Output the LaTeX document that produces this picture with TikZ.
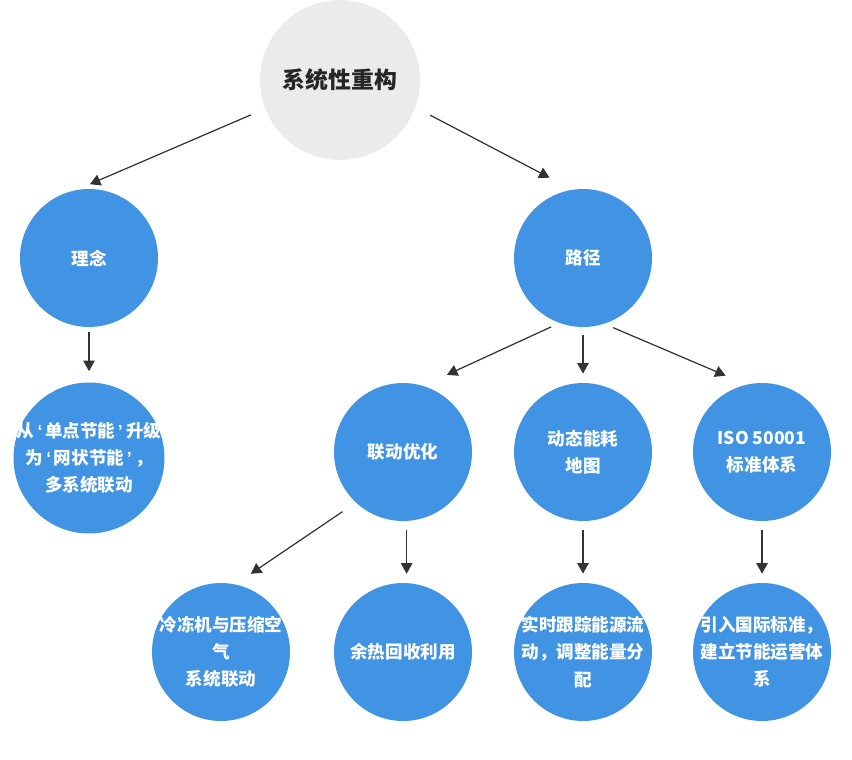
\documentclass[tikz,border=0pt]{standalone}
\usepackage{fontspec}
\newfontfamily\cjk{Noto Sans CJK SC}
\newfontfamily\lat{Liberation Sans}
\usepackage{tikz}
\usetikzlibrary{arrows.meta}
\definecolor{burbuja}{HTML}{4194E4}
\definecolor{raizgris}{HTML}{EBEBEB}
\definecolor{flecha}{HTML}{333333}
\newcommand{\comA}{\hspace{0.2em}{\lat\bfseries ‘}\hspace{0.15em}}
\newcommand{\comB}{\hspace{0.15em}{\lat\bfseries ’}\hspace{0.2em}}
\tikzstyle{raiz}=[circle, fill=raizgris, minimum size=3.2cm, inner sep=0pt]
\tikzstyle{burb}=[circle, fill=burbuja, minimum size=2.76cm, inner sep=0pt]
\tikzstyle{txtr}=[align=center, font=\cjk\bfseries\fontsize{13pt}{16pt}\selectfont, text=black!85]
\tikzstyle{txtb}=[align=center, font=\cjk\bfseries\fontsize{10pt}{15.5pt}\selectfont, text=white]
\tikzstyle{flec}=[draw=flecha, line width=0.7pt, -{Triangle[length=6pt,width=6.5pt]}]

\begin{document}
\begin{tikzpicture}[x=0.02cm, y=-0.02cm]
            \useasboundingbox[fill=white] (0,0) rectangle (852,760);
            % Nodos
            \node[raiz, label={[txtr]center:系统性重构}] (sis) at (340,80) {};
            \node[burb, label={[txtb]center:理念}] (idea) at (89,258) {};
            \node[burb, label={[txtb]center:路径}] (ruta) at (583,258) {};
            \node[burb, minimum size=3.02cm, label={[txtb]center:从\comA 单点节能\comB 升级\\为\comA 网状节能\comB ，\\多系统联动}] (multi) at (89,458) {};
            \node[burb, label={[txtb]center:联动优化}] (link) at (403,452) {};
            \node[burb, label={[txtb]center:动态能耗\\地图}] (mapa) at (583,452) {};
            \node[burb, label={[txtb]center:ISO 50001\\标准体系}] (iso) at (762,452) {};
            \node[burb, label={[txtb]center:冷冻机与压缩空\\气\\系统联动}] (frio) at (221,652) {};
            \node[burb, label={[txtb]center:余热回收利用}] (calor) at (403,652) {};
            \node[burb, label={[txtb]center:实时跟踪能源流\\动，调整能量分\\配}] (flujo) at (583,652) {};
            \node[burb, label={[txtb]center:引入国际标准，\\建立节能运营体\\系}] (norma) at (762,652) {};
            % Flechas
            \draw[flec, shorten <=0.31cm, shorten >=0.28cm] (sis.201.5) -- (idea.100);
            \draw[flec, shorten <=0.33cm, shorten >=0.51cm] (sis.340.2) -- (ruta.99.7);
            \draw[flec, shorten <=0.1cm, shorten >=0.22cm] (idea.south) -- (multi.north);
            \draw[flec, shorten <=0.18cm, shorten >=0.52cm] (ruta.250.9) -- (link.73);
            \draw[flec, shorten <=0.16cm, shorten >=0.18cm] (ruta.south) -- (mapa.north);
            \draw[flec, shorten <=0.19cm, shorten >=0.45cm] (ruta.288.9) -- (iso.103.8);
            \draw[flec, shorten <=0.32cm, shorten >=0.37cm] (link.227.6) -- (frio.78.7);
            \draw[flec, shorten <=0.18cm, shorten >=0.18cm] (link.-87.5) -- (calor.87.5);
            \draw[flec, shorten <=0.18cm, shorten >=0.18cm] (mapa.south) -- (flujo.north);
            \draw[flec, shorten <=0.18cm, shorten >=0.18cm] (iso.south) -- (norma.north);
\end{tikzpicture}
\end{document}
